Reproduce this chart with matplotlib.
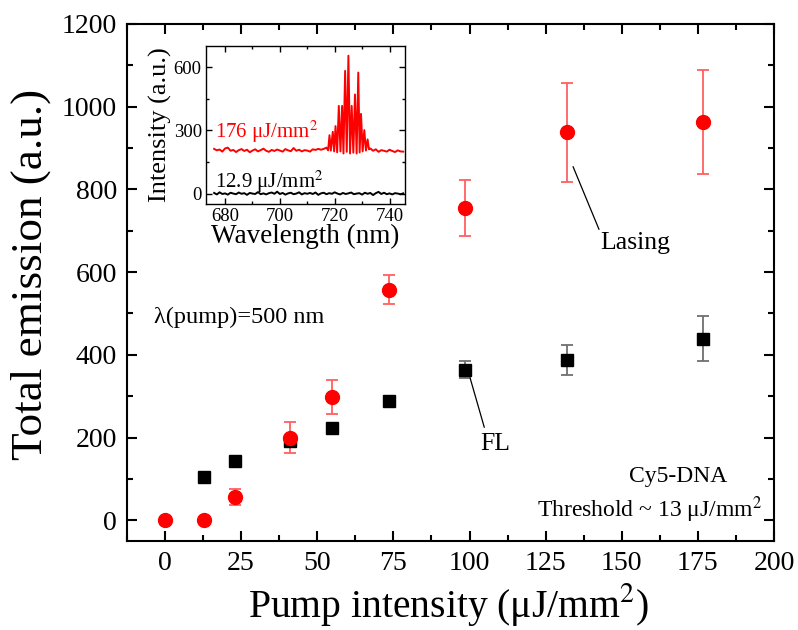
import numpy as np
import matplotlib
matplotlib.use("Agg")
import matplotlib.pyplot as plt
from matplotlib.ticker import MultipleLocator

plt.rcParams["font.family"] = ["Liberation Serif", "DejaVu Serif"]
plt.rcParams["mathtext.fontset"] = "stix"

# Main panel data (pump intensity in uJ/mm^2, total emission in a.u.)
lasing_x = [0, 12.9, 23, 41, 55, 73.6, 98.5, 132, 176.6]
lasing_y = [0, 0, 57, 200, 297, 557, 755, 938, 963]
lasing_err = [0, 0, 19, 37, 41, 35, 68, 120, 126]

fl_x = [12.9, 23, 41, 55, 73.6, 98.5, 132, 176.6]
fl_y = [105, 144, 191, 223, 288, 364, 388, 439]
fl_err = [0, 0, 12, 0, 0, 21, 37, 55]

# Inset spectra (wavelength nm, intensity a.u.)
red_base_start = 676
red_base = [212, 205, 209, 199, 214, 218, 203, 207, 197, 206, 211, 202, 208,
            196, 204, 210, 200, 206, 213, 203, 198, 207, 202, 209, 204, 199,
            211, 205, 201, 216, 203, 208, 200, 206, 204, 199, 210, 207, 212]
peak_wl = [715.0, 716.0, 717.0, 717.6, 718.1, 718.6, 719.3, 719.8, 720.3,
           720.9, 721.5, 722.1, 722.7, 723.2, 723.8, 724.4, 725.0, 725.6,
           726.2, 726.8, 727.4, 728.0, 728.6, 729.1, 729.6, 730.2, 730.8,
           731.4, 732.0, 732.5]
peak_int = [208, 212, 218, 205, 277, 204, 293, 200, 320, 196, 416, 200, 416,
            190, 582, 198, 654, 190, 416, 194, 470, 190, 574, 195, 378, 200,
            301, 204, 257, 210]
red_tail_start = 733
red_tail = [214, 203, 210, 198, 206, 203, 199, 208, 202, 197, 205, 200, 199]

black_start = 676
black_int = [3, -4, 6, -2, 1, -5, 4, 0, -3, 5, -1, 2, -6, 3, 0, -2, 7, -3, 1,
             -4, 2, 5, -1, 9, -2, 3, -5, 1, 4, -3, 0, 6, -4, 2, -1, 3, -2, 5,
             -6, 1, 4, -3, 2, -1, 6, 0, -4, 3, -2, 1, 5, -3, 0, 2, -5, 4, -1,
             3, -7, 2, 8, -2, 4, -3, 1, -4, 2, 0, -3, 1]


def style_axes(ax, major_len, minor_len, width):
    for s in ax.spines.values():
        s.set_linewidth(width)
    ax.tick_params(which="both", direction="in", top=True, right=True,
                   width=width)
    ax.tick_params(which="major", length=major_len)
    ax.tick_params(which="minor", length=minor_len)


fig = plt.figure(figsize=(7.98, 6.30), dpi=100)
ax = fig.add_axes([0.159, 0.1413, 0.811, 0.8207])

ax.errorbar(fl_x, fl_y, yerr=fl_err, fmt="s", color="black", ms=8,
            ecolor="#707070", elinewidth=1.3, capsize=4, capthick=1.3)
ax.errorbar(lasing_x, lasing_y, yerr=lasing_err, fmt="o", color="red", ms=10,
            ecolor="#ff6060", elinewidth=1.3, capsize=4, capthick=1.3)

ax.set_xlim(-12.5, 200)
ax.set_ylim(-50, 1200)
ax.xaxis.set_major_locator(MultipleLocator(25))
ax.xaxis.set_minor_locator(MultipleLocator(12.5))
ax.yaxis.set_major_locator(MultipleLocator(200))
ax.yaxis.set_minor_locator(MultipleLocator(100))
style_axes(ax, 7, 4, 1.5)
ax.tick_params(labelsize=20, pad=7)

ax.set_xlabel("Pump intensity (\u03bcJ/mm$^2$)", fontsize=28.5)
ax.xaxis.set_label_coords(0.497, -0.078)
ax.set_ylabel("Total emission (a.u.)", fontsize=32.5)
ax.yaxis.set_label_coords(-0.118, 0.516)

ax.annotate("Lasing", xy=(134, 855), xytext=(142.9, 670), fontsize=18.5,
            va="center", ha="left",
            arrowprops=dict(arrowstyle="-", color="black", lw=0.9,
                            relpos=(0, 1), shrinkA=0, shrinkB=0))
ax.annotate("FL", xy=(100.2, 344), xytext=(103.4, 185), fontsize=18.5,
            va="center", ha="left",
            arrowprops=dict(arrowstyle="-", color="black", lw=0.9,
                            relpos=(0.2, 1), shrinkA=2, shrinkB=0))
ax.text(-3.5, 490, "\u03bb(pump)=500 nm", fontsize=17.5, va="center")
ax.text(168.5, 105, "Cy5-DNA", fontsize=17, ha="center", va="center")
ax.text(196, 25, "Threshold ~ 13 \u03bcJ/mm$^2$", fontsize=17, ha="right",
        va="center")

# Inset spectra
ins = fig.add_axes([0.258, 0.676, 0.249, 0.251])
red_wl = list(np.arange(len(red_base)) + red_base_start) + peak_wl + \
    list(np.arange(len(red_tail)) + red_tail_start)
red_int = red_base + peak_int + red_tail
ins.plot(red_wl, red_int, color="red", lw=1.4)
black_wl = np.arange(len(black_int)) + black_start
ins.plot(black_wl, black_int, color="black", lw=1.4)

ins.set_xlim(673, 745.5)
ins.set_ylim(-50, 700)
ins.xaxis.set_major_locator(MultipleLocator(20))
ins.xaxis.set_minor_locator(MultipleLocator(10))
ins.yaxis.set_major_locator(MultipleLocator(300))
ins.yaxis.set_minor_locator(MultipleLocator(150))
style_axes(ins, 4, 2, 1.0)
ins.tick_params(labelsize=13.5, pad=3)
ins.set_xlabel("Wavelength (nm)", fontsize=19.5, labelpad=-1)
ins.set_ylabel("Intensity (a.u.)", fontsize=19, labelpad=1)
ins.text(676.5, 293, "176 \u03bcJ/mm$^2$", color="red", fontsize=15,
         va="center")
ins.text(676.5, 58, "12.9 \u03bcJ/mm$^2$", color="black", fontsize=15,
         va="center")

fig.savefig("out.png", dpi=100)
